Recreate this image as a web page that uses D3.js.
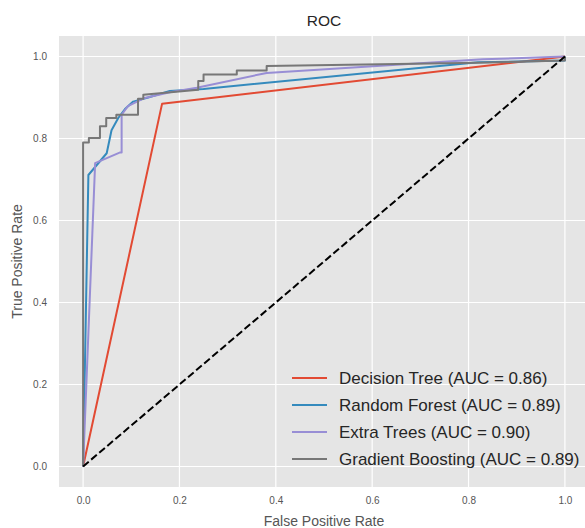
<!DOCTYPE html>
<html>
<head>
<meta charset="utf-8">
<script src="https://cdn.jsdelivr.net/npm/d3@7"></script>
<style>
  body { margin: 0; background: #fff; }
  svg { display: block; }
</style>
</head>
<body>
<script>
// ROC curves: [fpr, tpr]
var decisionTree = [[0, 0], [0.164, 0.885], [1, 1]];
var randomForest = [[0, 0], [0.011, 0.711], [0.049, 0.764], [0.059, 0.82], [0.073, 0.85],
  [0.087, 0.872], [0.104, 0.89], [0.135, 0.9], [0.18, 0.916], [0.25, 0.921],
  [0.82, 0.986], [1, 0.99], [1, 1]];
var extraTrees = [[0, 0], [0.025, 0.74], [0.077, 0.766], [0.08, 0.766], [0.08, 0.858],
  [0.093, 0.879], [0.128, 0.899], [0.18, 0.913], [0.236, 0.924], [0.381, 0.96],
  [0.83, 0.993], [1, 1]];
var gradientBoosting = [[0, 0], [0, 0.79], [0.012, 0.79], [0.012, 0.801], [0.035, 0.801],
  [0.035, 0.83], [0.048, 0.83], [0.048, 0.85], [0.069, 0.85], [0.069, 0.858],
  [0.114, 0.858], [0.114, 0.897], [0.125, 0.897], [0.125, 0.907], [0.239, 0.919],
  [0.239, 0.94], [0.25, 0.94], [0.25, 0.956], [0.319, 0.956], [0.319, 0.966],
  [0.381, 0.966], [0.381, 0.977], [0.82, 0.985], [1, 0.99], [1, 1]];
var chance = [[0, 0], [1, 1]];

var seriesNames = ["Decision Tree", "Random Forest", "Extra Trees", "Gradient Boosting"];
var aucValues = ["0.86", "0.89", "0.90", "0.89"];
var seriesColors = ["#E24A33", "#348ABD", "#988ED5", "#777777"];
var tickValues = [0, 0.2, 0.4, 0.6, 0.8, 1.0];

var series = [decisionTree, randomForest, extraTrees, gradientBoosting];

var outerWidth = 585;
var outerHeight = 528;

var svg = d3.select("body")
  .append("svg")
  .attr("width", outerWidth)
  .attr("height", outerHeight)
  .style("font-family", "'Liberation Sans', Arial, sans-serif");

var xScale = d3.scaleLinear().domain([-0.05, 1.05]).range([59, 589]);
var yScale = d3.scaleLinear().domain([-0.05, 1.05]).range([487, 36]);

// plot background
svg.append("rect")
  .attr("x", xScale(-0.05))
  .attr("y", yScale(1.05))
  .attr("width", xScale(1.05) - xScale(-0.05))
  .attr("height", yScale(-0.05) - yScale(1.05))
  .attr("fill", "#E5E5E5");

// grid
svg.append("g")
  .selectAll("line")
  .data(tickValues)
  .enter()
  .append("line")
  .attr("x1", (d) => xScale(d))
  .attr("x2", (d) => xScale(d))
  .attr("y1", yScale(1.05))
  .attr("y2", yScale(-0.05))
  .attr("stroke", "#fff")
  .attr("stroke-width", 1.2);

svg.append("g")
  .selectAll("line")
  .data(tickValues)
  .enter()
  .append("line")
  .attr("y1", (d) => yScale(d))
  .attr("y2", (d) => yScale(d))
  .attr("x1", xScale(-0.05))
  .attr("x2", xScale(1.05))
  .attr("stroke", "#fff")
  .attr("stroke-width", 1.2);

// axes (labels only, no domain / tick marks like ggplot style)
var xAxis = d3.axisBottom(xScale).tickValues(tickValues).tickFormat(d3.format(".1f")).tickSize(0).tickPadding(10);
var yAxis = d3.axisLeft(yScale).tickValues(tickValues).tickFormat(d3.format(".1f")).tickSize(0).tickPadding(12);

var gx = svg.append("g")
  .attr("transform", "translate(0," + yScale(-0.05) + ")")
  .call(xAxis);
var gy = svg.append("g")
  .attr("transform", "translate(" + xScale(-0.05) + ",0)")
  .call(yAxis);
[gx, gy].forEach(function (g) {
  g.select(".domain").remove();
  g.selectAll("text")
    .attr("fill", "#555")
    .attr("font-size", 10)
    .attr("font-family", "'Liberation Sans', Arial, sans-serif");
});

// lines
var line = d3.line()
  .x((d) => xScale(d[0]))
  .y((d) => yScale(d[1]));

svg.selectAll(".line-path")
  .data(series)
  .enter()
  .append("path")
  .attr("class", "line-path")
  .attr("d", (d) => line(d))
  .attr("fill", "none")
  .attr("stroke", (d, i) => seriesColors[i])
  .attr("stroke-width", 2)
  .attr("stroke-linejoin", "round");

// chance line on top
svg.append("path")
  .attr("d", line(chance))
  .attr("fill", "none")
  .attr("stroke", "#000")
  .attr("stroke-width", 2)
  .attr("stroke-dasharray", "7.4,3.2");

// legend
var legend = svg.selectAll(".legend")
  .data(seriesNames)
  .enter()
  .append("g")
  .attr("class", "legend")
  .attr("transform", (d, i) => "translate(292," + (378 + i * 27) + ")");

legend.append("line")
  .attr("x1", 0)
  .attr("x2", 35)
  .attr("stroke", (d, i) => seriesColors[i])
  .attr("stroke-width", 2.2);

legend.append("text")
  .attr("x", 47)
  .attr("y", 6)
  .attr("font-size", 17)
  .attr("fill", "#262626")
  .text((d, i) => d + " (AUC = " + aucValues[i] + ")");

// title and axis labels
svg.append("text")
  .attr("x", (xScale(-0.05) + xScale(1.05)) / 2)
  .attr("y", 26)
  .attr("text-anchor", "middle")
  .attr("font-size", 15.5)
  .attr("fill", "#262626")
  .text("ROC");

svg.append("text")
  .attr("x", (xScale(-0.05) + xScale(1.05)) / 2)
  .attr("y", 526)
  .attr("text-anchor", "middle")
  .attr("font-size", 14)
  .attr("fill", "#555")
  .text("False Positive Rate");

svg.append("text")
  .attr("transform", "translate(22," + (yScale(0.5)) + ") rotate(-90)")
  .attr("text-anchor", "middle")
  .attr("font-size", 14)
  .attr("fill", "#555")
  .text("True Positive Rate");
</script>
</body>
</html>
